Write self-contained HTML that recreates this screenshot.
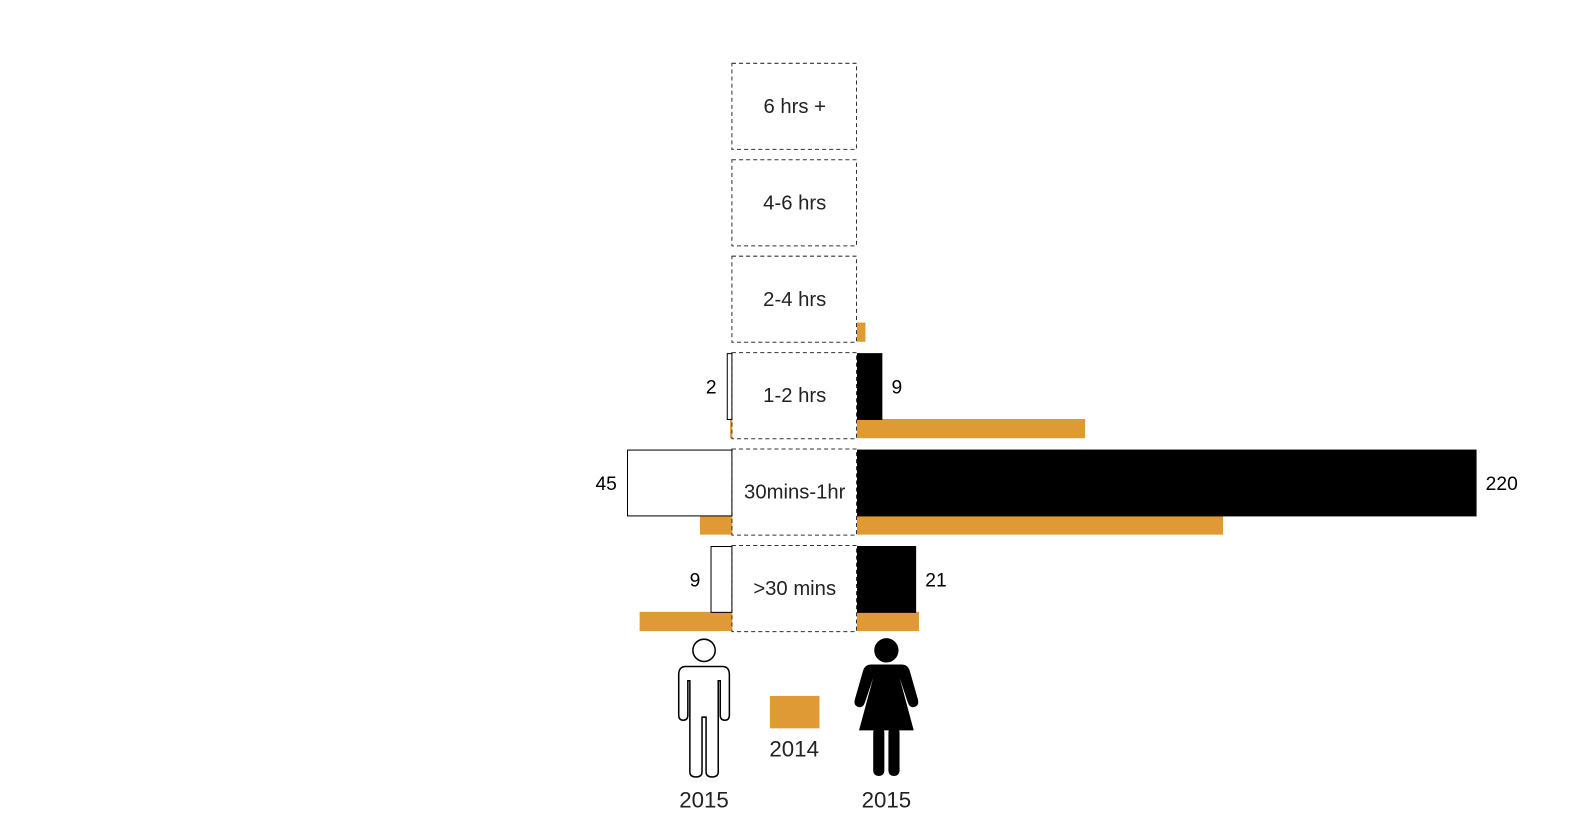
<!DOCTYPE html>
<html><head><meta charset="utf-8"><style>
html,body{margin:0;padding:0;background:#fff;}
svg{display:block;font-family:"Liberation Sans",sans-serif;}
</style></head><body>
<svg id="chart" width="1588" height="827" viewBox="0 0 1567.6 816.4" preserveAspectRatio="none" style="position:absolute;left:0;top:0"></svg>
<script>
const categories = ["6 hrs +","4-6 hrs","2-4 hrs","1-2 hrs","30mins-1hr",">30 mins"];
const men2015 = [0,0,0,2,45,9];
const women2015 = [0,0,0,9,220,21];
const men2014 = [0,0,0,1,14,40];
const women2014 = [0,0,3,81,130,22];

const svg = document.getElementById('chart');
const NS = 'http://www.w3.org/2000/svg';
const boxL = 722, boxR = 845, rowTop0 = 62, pitch = 95.2, rowH = 85;
const leftScale = v => v * 2.29;
const rightScale = v => v * 2.78;
const ORANGE = '#df9a35';
function mk(tag, attrs, parent){const e=document.createElementNS(NS,tag);for(const k in attrs)e.setAttribute(k,attrs[k]);(parent||svg).appendChild(e);return e;}

categories.forEach((c,i)=>{
  const top = rowTop0 + i*pitch, bot = top + rowH;
  if (men2014[i]>0){const w=leftScale(men2014[i]);
    const r=mk('rect',{x:boxL+1-w,y:bot-19,width:w,height:19,fill:ORANGE});
    
    }
  if (women2014[i]>0){const w=rightScale(women2014[i]);
    const r=mk('rect',{x:boxR+1,y:bot-19,width:w,height:19,fill:ORANGE});
    
    }
  const b=mk('rect',{x:boxL+0.5,y:top+0.5,width:boxR-boxL,height:rowH,fill:'none',stroke:'#333','stroke-width':1,'stroke-dasharray':'4,3'});
  
  
  const t=mk('text',{x:(boxL+boxR)/2+1,y:top+rowH/2+7,'text-anchor':'middle','font-size':20,fill:'#222'});
  t.textContent=c;
  
  
  if (men2015[i]>0){const w=leftScale(men2015[i]);
    const r=mk('rect',{x:boxL+0.5-w,y:top+1.5,width:w,height:65,fill:'#fff',stroke:'#000','stroke-width':1});
    
    
    const l=mk('text',{x:boxL-w-10,y:top+41,'text-anchor':'end','font-size':19,fill:'#000'});
    l.textContent=men2015[i];
    
    }
  if (women2015[i]>0){const w=rightScale(women2015[i]);
    const r=mk('rect',{x:boxR+1,y:top+1,width:w,height:66,fill:'#000'});
    
    
    const l=mk('text',{x:boxR+1+w+9,y:top+41,'text-anchor':'start','font-size':19,fill:'#000'});
    l.textContent=women2015[i];
    
    }
});
</script>
<svg width="1588" height="827" viewBox="0 0 1567.6 816.4" preserveAspectRatio="none" style="position:absolute;left:0;top:0">
  <g fill="#fff" stroke="#000" stroke-width="1.5">
    <circle cx="695" cy="642" r="11"/>
    <path d="M677 658 Q670 658 670 666 L670 706 Q670 711 674.5 711 Q679 711 679 706 L679 672 L681 672 L681 762 Q681 767 687 767 Q693 767 693 762 L693 708 L697 708 L697 762 Q697 767 703 767 Q709 767 709 762 L709 672 L711 672 L711 706 Q711 711 715.5 711 Q720 711 720 706 L720 666 Q720 658 713 658 Z"/>
  </g>
  <g fill="#000">
    <circle cx="875" cy="642" r="12"/>
    <path d="M860 656 L890 656 Q896 656 898 662 L906 690 Q908 697 902 698 Q898 699 896 693 L888 669 L902 721 L848 721 L862 669 L854 693 Q852 699 848 698 Q842 697 844 690 L852 662 Q854 656 860 656 Z"/>
    <rect x="862" y="718" width="11" height="48" rx="5"/>
    <rect x="877" y="718" width="11" height="48" rx="5"/>
  </g>
  <rect x="760" y="687" width="49" height="32" fill="#df9a35"/>
  <text x="784" y="747" text-anchor="middle" font-size="22" fill="#222" font-family="Liberation Sans, sans-serif">2014</text>
  <text x="695" y="797" text-anchor="middle" font-size="22" fill="#222" font-family="Liberation Sans, sans-serif">2015</text>
  <text x="875" y="797" text-anchor="middle" font-size="22" fill="#222" font-family="Liberation Sans, sans-serif">2015</text>
</svg>
</body></html>
